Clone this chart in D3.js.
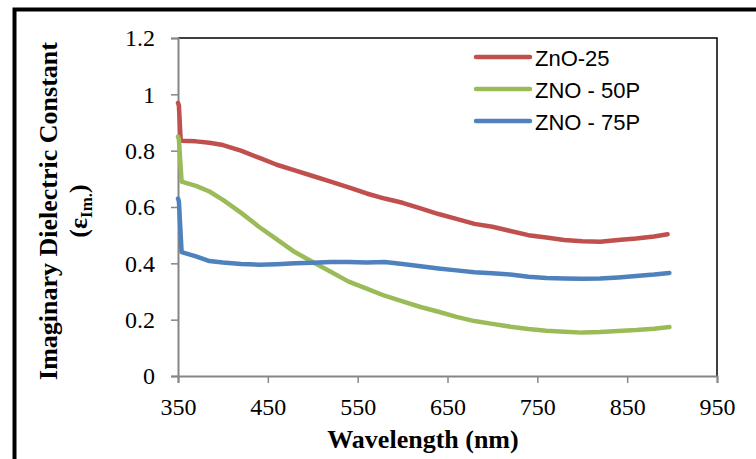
<!DOCTYPE html>
<html>
<head>
<meta charset="utf-8">
<script src="https://cdn.jsdelivr.net/npm/d3@7"></script>
<style>
  body { margin: 0; background: #fff; }
  svg { display: block; }
</style>
</head>
<body>
<div id="chart"></div>
<script>
// data (wavelength in nm, imaginary dielectric constant)
const wl25 = [350, 351, 353, 370, 385, 400, 420, 440, 460, 480, 500, 520, 540, 560, 580, 600, 620, 640, 660, 680, 700, 720, 740, 760, 780, 800, 820, 840, 860, 880, 895];
const zno25 = [0.97, 0.96, 0.835, 0.833, 0.828, 0.82, 0.80, 0.775, 0.75, 0.73, 0.71, 0.69, 0.67, 0.648, 0.63, 0.615, 0.595, 0.575, 0.558, 0.54, 0.53, 0.515, 0.50, 0.492, 0.483, 0.478, 0.477, 0.483, 0.488, 0.495, 0.503];

const wl50 = [350, 351, 354, 370, 385, 400, 420, 440, 460, 480, 500, 520, 540, 560, 580, 600, 620, 640, 660, 680, 700, 720, 740, 760, 780, 800, 820, 840, 860, 880, 897];
const zno50 = [0.85, 0.84, 0.69, 0.675, 0.655, 0.625, 0.58, 0.53, 0.485, 0.44, 0.405, 0.37, 0.335, 0.31, 0.285, 0.265, 0.245, 0.228, 0.21, 0.195, 0.185, 0.175, 0.167, 0.161, 0.157, 0.154, 0.156, 0.16, 0.163, 0.168, 0.174];

const wl75 = [350, 351, 354, 370, 385, 400, 420, 440, 460, 480, 500, 520, 540, 560, 580, 600, 620, 640, 660, 680, 700, 720, 740, 760, 780, 800, 820, 840, 860, 880, 897];
const zno75 = [0.63, 0.62, 0.44, 0.425, 0.408, 0.403, 0.398, 0.395, 0.397, 0.40, 0.402, 0.405, 0.405, 0.403, 0.405, 0.398, 0.39, 0.382, 0.375, 0.368, 0.365, 0.36, 0.352, 0.348, 0.346, 0.345, 0.346, 0.35, 0.355, 0.36, 0.366];

const seriesNames = ["ZnO-25", "ZNO - 50P", "ZNO - 75P"];
const seriesColors = ["#C0504D", "#9BBB59", "#4F81BD"];
const xTicks = [350, 450, 550, 650, 750, 850, 950];
const yTicks = [0, 0.2, 0.4, 0.6, 0.8, 1, 1.2];

//Dim
const width = 756;
const height = 459;
const plot = {left: 178, right: 717, top: 38, bottom: 376};

const svg = d3.select("#chart")
    .append("svg")
    .attr("width", width)
    .attr("height", height);

//outer frame (cut by the picture on right and bottom)
svg.append("rect")
    .attr("x", 14.5).attr("y", 9.5)
    .attr("width", 900).attr("height", 600)
    .attr("fill", "none")
    .attr("stroke", "#000")
    .attr("stroke-width", 4);

//Scaling
const x = d3.scaleLinear().domain([350, 950]).range([plot.left, plot.right]);
const y = d3.scaleLinear().domain([0, 1.2]).range([plot.bottom, plot.top]);

//plot border top + right
svg.append("path")
    .attr("d", `M${plot.left},${plot.top}H${plot.right}V${plot.bottom}`)
    .attr("fill", "none")
    .attr("stroke", "#000")
    .attr("stroke-width", 1.5);

//axes
const xAxis = svg.append("g")
    .attr("transform", `translate(0,${plot.bottom})`)
    .call(d3.axisBottom(x).tickValues(xTicks).tickSize(7).tickPadding(15).tickFormat(d3.format("d")));

const yAxis = svg.append("g")
    .attr("transform", `translate(${plot.left},0)`)
    .call(d3.axisLeft(y).tickValues(yTicks).tickSize(7).tickPadding(16).tickFormat(d => String(+d.toFixed(1))));

[xAxis, yAxis].forEach(g => {
    g.select(".domain").attr("stroke", "#868686").attr("stroke-width", 2);
    g.selectAll(".tick line").attr("stroke", "#868686").attr("stroke-width", 1.5);
    g.selectAll("text")
        .attr("fill", "#000")
        .style("font-family", "'Liberation Serif', 'Times New Roman', serif")
        .style("font-size", "24px");
});
yAxis.selectAll("text").attr("dy", "0.33em");

//lines
const seriesData = [
    wl25.map((w, i) => [w, zno25[i]]),
    wl50.map((w, i) => [w, zno50[i]]),
    wl75.map((w, i) => [w, zno75[i]])
];

const line = d3.line()
    .x(d => x(d[0]))
    .y(d => y(d[1]));

svg.selectAll("path.series")
    .data(seriesData)
    .enter()
    .append("path")
    .attr("class", "series")
    .attr("d", line)
    .attr("fill", "none")
    .attr("stroke", (d, i) => seriesColors[i])
    .attr("stroke-width", 4.5)
    .attr("stroke-linejoin", "round")
    .attr("stroke-linecap", "round");

//legend
const legend = svg.append("g").attr("transform", "translate(476,57)");
seriesNames.forEach((name, i) => {
    const row = legend.append("g").attr("transform", `translate(0,${i * 32})`);
    row.append("line")
        .attr("x1", 0).attr("x2", 54)
        .attr("stroke", seriesColors[i])
        .attr("stroke-width", 4.5)
        .attr("stroke-linecap", "round");
    row.append("text")
        .attr("x", 59).attr("y", 9)
        .style("font-family", "'Liberation Sans', Arial, sans-serif")
        .style("font-size", "22px")
        .text(name);
});

//axis titles
svg.append("text")
    .attr("x", 423).attr("y", 448)
    .attr("text-anchor", "middle")
    .style("font-family", "'Liberation Serif', 'Times New Roman', serif")
    .style("font-size", "26px")
    .style("font-weight", "bold")
    .text("Wavelength (nm)");

svg.append("text")
    .attr("transform", "translate(57,211) rotate(-90)")
    .attr("text-anchor", "middle")
    .style("font-family", "'Liberation Serif', 'Times New Roman', serif")
    .style("font-size", "26px")
    .style("font-weight", "bold")
    .text("Imaginary Dielectric Constant");

const sub = svg.append("text")
    .attr("transform", "translate(87,211) rotate(-90)")
    .attr("text-anchor", "middle")
    .style("font-family", "'Liberation Serif', 'Times New Roman', serif")
    .style("font-size", "26px")
    .style("font-weight", "bold");
sub.append("tspan").text("(ε");
sub.append("tspan").attr("dy", 5).style("font-size", "17px").text("Im.");
sub.append("tspan").attr("dy", -5).text(")");
</script>
</body>
</html>
